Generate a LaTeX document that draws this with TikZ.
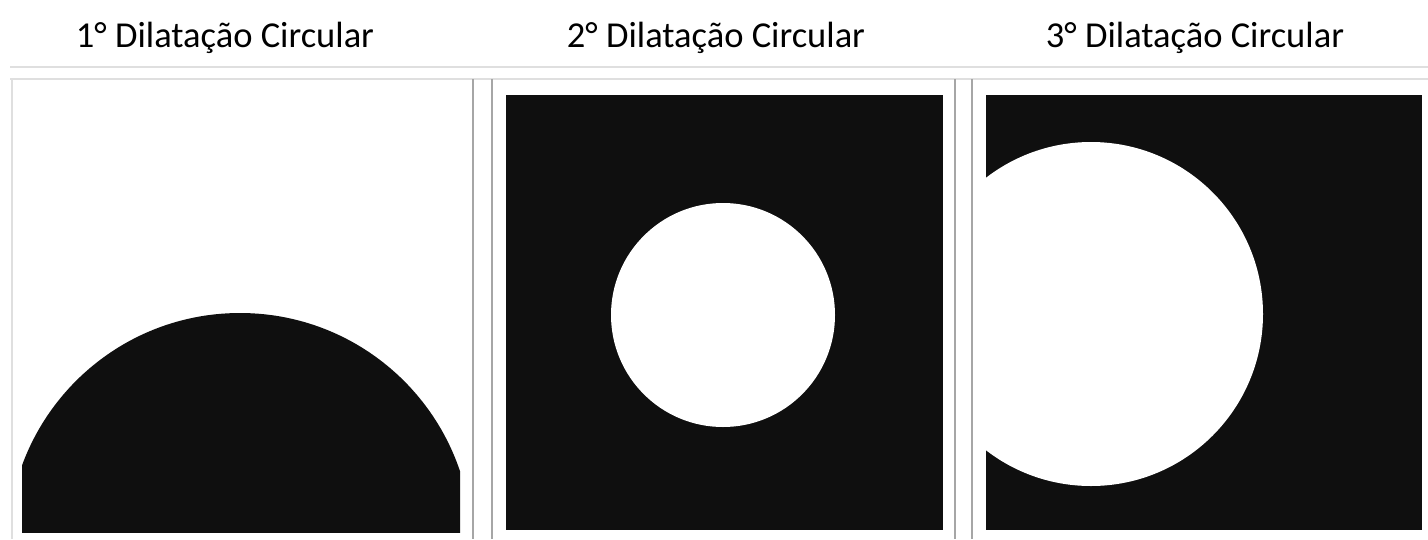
\documentclass[tikz,border=0pt]{standalone}
\usepackage{fontspec}
\setmainfont{Carlito}
\begin{document}
\begin{tikzpicture}[x=1pt,y=-1pt,
  title/.style={font=\fontsize{36.5}{40}\selectfont, anchor=base, inner sep=0pt},
  frameline/.style={draw=gray!70, line width=1.6pt},
  lightline/.style={draw=gray!25, line width=1.2pt},
  blackimg/.style={fill=black!94, draw=none},
  hole/.style={fill=white, draw=none}]
\useasboundingbox (0,0) rectangle (1428,539);
\fill[white] (0,0) rectangle (1428,539);
% titles
\node[title] (t1) at (225,47) {1° Dilatação Circular};
\node[title] (t2) at (716,47) {2° Dilatação Circular};
\node[title] (t3) at (1195,47) {3° Dilatação Circular};
% frames
\draw[lightline] (10,67) -- (1428,67);
\draw[lightline] (10,79) -- (1428,79);
\draw[lightline] (12,79) -- (12,539);
\draw[frameline] (473,79) -- (473,539);
\draw[frameline] (492,79) -- (492,539);
\draw[frameline] (955,79) -- (955,539);
\draw[frameline] (972,79) -- (972,539);
% panel 1
\begin{scope}
  \clip (22,92) rectangle (460,532);
  \fill[blackimg] (240,545) circle[radius=232];
\end{scope}
% panel 2
\fill[blackimg] (506,95) rectangle (943,530);
\fill[hole] (723,315) circle[radius=112];
% panel 3
\fill[blackimg] (986,95) rectangle (1422,530);
\begin{scope}
  \clip (986,95) rectangle (1422,530);
  \fill[hole] (1091,314) circle[radius=172];
\end{scope}
\end{tikzpicture}
\end{document}
